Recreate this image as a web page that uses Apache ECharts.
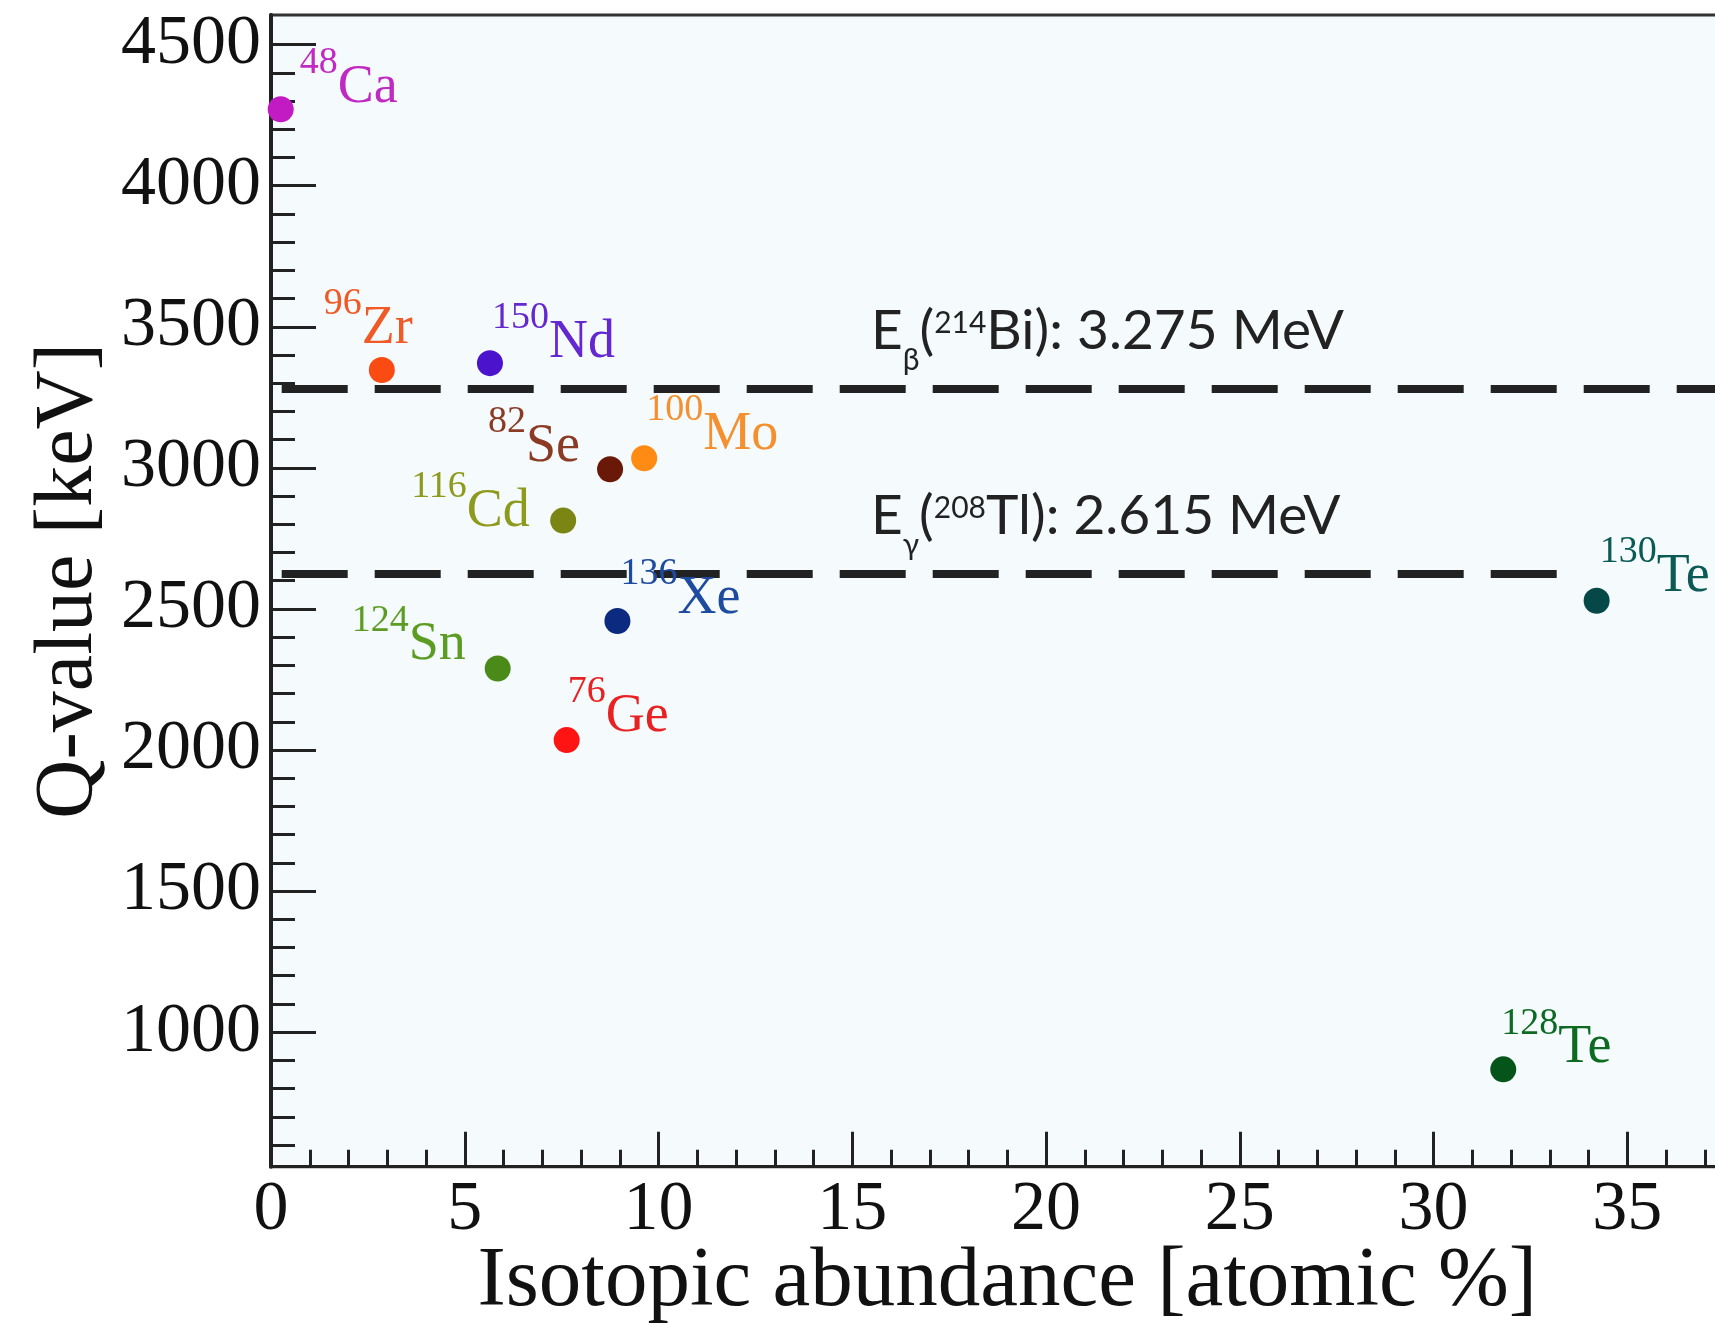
<!DOCTYPE html>
<html><head><meta charset="utf-8">
<script src="https://cdn.jsdelivr.net/npm/echarts@6/dist/echarts.min.js"></script>
<style>html,body{margin:0;padding:0;background:#fff}#c{width:1715px;height:1323px}</style>
</head><body><div id="c"></div>
<script>
// ---------- data ----------
const massNumbers = ['48','96','150','82','100','116','136','124','76','130','128'];
const elements    = ['Ca','Zr','Nd','Se','Mo','Cd','Xe','Sn','Ge','Te','Te'];
const abundance   = [0.25, 2.86, 5.65, 8.75, 9.63, 7.54, 8.94, 5.85, 7.63, 34.21, 31.8];
const qValue      = [4271, 3347, 3371, 2995, 3034, 2813, 2457, 2289, 2035, 2529, 868];

const refLineValues = [3280, 2623];
const refLineEnds   = [38, 33.19];
const refLabels = [
  '{n|E}{b|β}{n|(}{p|214}{n|Bi): 3.275 MeV}',
  '{n|E}{b|γ}{n|(}{p|208}{n|Tl): 2.615 MeV}'
];

const xTickValues  = [0,5,10,15,20,25,30,35];
const xMinorTicks  = [1,2,3,4,6,7,8,9,11,12,13,14,16,17,18,19,21,22,23,24,26,27,28,29,31,32,33,34,36,37];
const yTickValues  = [1000,1500,2000,2500,3000,3500,4000,4500];
const yMinorTicks  = [600,700,800,900,1100,1200,1300,1400,1600,1700,1800,1900,2100,2200,2300,2400,
                      2600,2700,2800,2900,3100,3200,3300,3400,3600,3700,3800,3900,4100,4200,4300,4400];

// ---------- styles ----------
const pointColors = ['#c21bc4','#fa4b12','#4b14cc','#6a1807','#ff8a14','#7b8514','#0b2a80','#4a8a18','#ff1414','#064848','#05551a'];
const textColors  = ['#c12ac2','#f05a26','#6428d0','#8a3a25','#f59030','#8e9a1e','#1e4aa0','#5c9c22','#e82222','#0b5a55','#0d6a22'];
// label anchor: [dx to superscript left, dy to element baseline] in px from point centre
const labelOffsets = [[19,-3],[-58,-23],[2,-2],[-122,-4],[2,-5],[-152,9],[3,-4],[-146,-5],[1,-5],[3,-6],[-2,-3]];

const SERIF = 'Liberation Serif';
const SANS = 'Lato';
const LBASE = 48.2; // element baseline from label box top

const scatterData = abundance.map((x, i) => ({
  value: [x, qValue[i]],
  itemStyle: { color: pointColors[i], opacity: 1 },
  label: {
    show: true,
    position: 'inside',
    align: 'left',
    verticalAlign: 'top',
    offset: [labelOffsets[i][0], labelOffsets[i][1] - LBASE],
    formatter: '{s|' + massNumbers[i] + '}{e|' + elements[i] + '}',
    rich: {
      s: { fontFamily: SERIF, fontSize: 38, color: textColors[i], lineHeight: 60, height: 10.8, verticalAlign: 'top' },
      e: { fontFamily: SERIF, fontSize: 54, color: textColors[i], lineHeight: 60, height: 60, verticalAlign: 'top' }
    }
  }
}));

const refRich = {
  n: { fontFamily: SANS, fontSize: 55, color: '#222', lineHeight: 80, height: 80, verticalAlign: 'top' },
  p: { fontFamily: SANS, fontSize: 30, color: '#222', lineHeight: 80, height: 63.6, verticalAlign: 'top' },
  b: { fontFamily: SANS, fontSize: 30, color: '#222', lineHeight: 80, height: 137.4, verticalAlign: 'top' }
};

const markLineData = refLineValues.map((v, i) => [
  { coord: [0, v], label: { formatter: refLabels[i] } },
  { coord: [refLineEnds[i], v] }
]);

const axisColor = '#222';
const plainNum = v => String(v);
const option = {
  backgroundColor: '#ffffff',
  animation: false,
  grid: {
    left: 271, top: 15, right: -28.5, bottom: 156.3,
    outerBoundsMode: 'none', containLabel: false,
    show: true, backgroundColor: '#f5fbfc', borderColor: '#333', borderWidth: 3
  },
  xAxis: [
    {
      type: 'value', min: 0, max: 38, position: 'bottom',
      name: 'Isotopic abundance [atomic %]', nameLocation: 'middle', nameGap: 73, nameMoveOverlap: false,
      nameTextStyle: { fontFamily: SERIF, fontSize: 85, color: '#111' },
      axisLine: { show: true, lineStyle: { color: axisColor, width: 3 } },
      axisTick: { show: true, inside: true, length: 35, customValues: xTickValues, lineStyle: { color: axisColor, width: 3 } },
      axisLabel: { show: true, customValues: xTickValues, margin: 9, formatter: plainNum, fontFamily: SERIF, fontSize: 70, color: '#111' },
      splitLine: { show: false }
    },
    {
      type: 'value', min: 0, max: 38, position: 'bottom',
      axisLine: { show: false },
      axisTick: { show: true, inside: true, length: 17, customValues: xMinorTicks, lineStyle: { color: axisColor, width: 3 } },
      axisLabel: { show: false },
      splitLine: { show: false }
    }
  ],
  yAxis: [
    {
      type: 'value', min: 523, max: 4605, position: 'left',
      name: 'Q-value [keV]', nameLocation: 'middle', nameGap: 148, nameRotate: 90,
      nameTextStyle: { fontFamily: SERIF, fontSize: 82, color: '#111', padding: [0, 0, 0, 20] },
      axisLine: { show: true, lineStyle: { color: axisColor, width: 4 } },
      axisTick: { show: true, inside: true, length: 45, customValues: yTickValues, lineStyle: { color: axisColor, width: 3 } },
      axisLabel: { show: true, customValues: yTickValues, margin: 10, formatter: plainNum, fontFamily: SERIF, fontSize: 70, color: '#111' },
      splitLine: { show: false }
    },
    {
      type: 'value', min: 523, max: 4605, position: 'left',
      axisLine: { show: false },
      axisTick: { show: true, inside: true, length: 24, customValues: yMinorTicks, lineStyle: { color: axisColor, width: 3 } },
      axisLabel: { show: false },
      splitLine: { show: false }
    }
  ],
  series: [{
    type: 'scatter',
    xAxisIndex: 0, yAxisIndex: 0,
    symbolSize: 26,
    z: 5,
    itemStyle: { opacity: 1 },
    data: scatterData,
    markLine: {
      silent: true,
      symbol: 'none',
      animation: false,
      lineStyle: { color: '#222', width: 8, type: [66, 27], dashOffset: 82.3, opacity: 1 },
      label: { show: true, position: 'insideStartTop', distance: [600, 17.5], rich: refRich },
      emphasis: { disabled: true },
      data: markLineData
    }
  }]
};

const chart = echarts.init(document.getElementById('c'), null, { renderer: 'canvas' });
chart.setOption(option);
</script>
</body></html>
